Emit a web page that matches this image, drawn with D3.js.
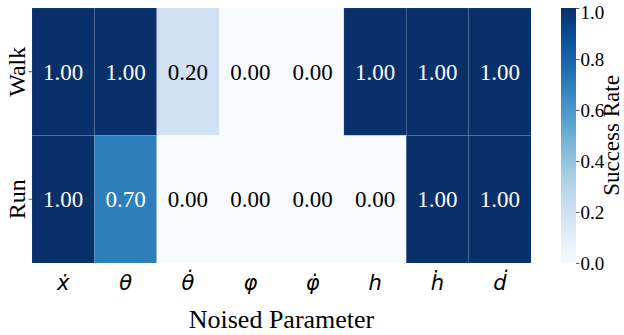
<!DOCTYPE html>
<html>
<head>
<meta charset="utf-8">
<script src="https://cdn.jsdelivr.net/npm/d3@7"></script>
<style>
  body { margin: 0; background: #fff; }
  svg { display: block; }
</style>
</head>
<body>
<div id="chart"></div>
<script>
// Data
const rows = ["Walk", "Run"];
const params = ["x\u0307", "\u03B8", "\u03B8\u0307", "\u03C6", "\u03C6\u0307", "h", "h\u0307", "d\u0307"];
const walkValues = [1.00, 1.00, 0.20, 0.00, 0.00, 1.00, 1.00, 1.00];
const runValues = [1.00, 0.70, 0.00, 0.00, 0.00, 0.00, 1.00, 1.00];
const colorbarTicks = [0.0, 0.2, 0.4, 0.6, 0.8, 1.0];

const serif = "'Liberation Serif', 'Times New Roman', serif";
const sans = "'DejaVu Sans', sans-serif";

const cells = [];
rows.forEach((r, i) => {
    const vals = i === 0 ? walkValues : runValues;
    params.forEach((p, j) => cells.push({ row: r, param: p, value: vals[j] }));
});

const svgWidth = 624;
const svgHeight = 335;
const margin = { top: 8, left: 32 };
const width = 499;
const height = 255;

const svg = d3.select("#chart")
    .append("svg")
    .attr("width", svgWidth)
    .attr("height", svgHeight);

const chart = svg.append("g")
    .attr("transform", `translate(${margin.left},${margin.top})`);

const x = d3.scaleBand().domain(params).range([0, width]);
const y = d3.scaleBand().domain(rows).range([0, height]);
const color = d3.scaleSequential(d3.interpolateBlues).domain([0, 1]);

// Cells
chart.selectAll(".cell")
    .data(cells)
    .enter()
    .append("rect")
    .attr("class", "cell")
    .attr("x", d => x(d.param))
    .attr("y", d => y(d.row))
    .attr("width", x.bandwidth())
    .attr("height", y.bandwidth())
    .attr("fill", d => color(d.value))
    .attr("stroke", "rgba(255,255,255,0.06)")
    .attr("stroke-width", 1);

// Annotations
chart.selectAll(".val")
    .data(cells)
    .enter()
    .append("text")
    .attr("class", "val")
    .attr("x", d => x(d.param) + x.bandwidth() / 2)
    .attr("y", d => y(d.row) + y.bandwidth() / 2)
    .attr("dy", "0.35em")
    .attr("text-anchor", "middle")
    .style("font-family", serif)
    .style("font-size", "23px")
    .attr("fill", d => d.value > 0.5 ? "#fff" : "#000")
    .text(d => d.value.toFixed(2));

// Y axis
const yAxis = chart.append("g")
    .call(d3.axisLeft(y).tickSize(3.5).tickPadding(4));
yAxis.select(".domain").remove();
yAxis.selectAll("line").attr("stroke", "#333").attr("stroke-width", 0.8);
yAxis.selectAll("text")
    .style("font-family", serif)
    .style("font-size", "24px")
    .attr("fill", "#000")
    .attr("text-anchor", "middle")
    .attr("dy", "0.32em")
    .attr("x", null)
    .attr("y", 0)
    .attr("transform", "translate(-15,0) rotate(-90)");

// X axis
const xAxis = chart.append("g")
    .attr("transform", `translate(0,${height})`)
    .call(d3.axisBottom(x).tickSize(0).tickPadding(12));
xAxis.select(".domain").remove();
xAxis.selectAll("text")
    .style("font-family", sans)
    .style("font-style", "italic")
    .style("font-size", "21px")
    .attr("fill", "#000");

chart.append("text")
    .attr("x", width / 2)
    .attr("y", 320)
    .attr("text-anchor", "middle")
    .style("font-family", serif)
    .style("font-size", "26px")
    .text("Noised Parameter");

// Colorbar
const cbX = 561;
const cbW = 15;
const cbScale = d3.scaleLinear().domain([0, 1]).range([margin.top + height, margin.top]);

const defs = svg.append("defs");
const grad = defs.append("linearGradient")
    .attr("id", "cbgrad")
    .attr("x1", 0).attr("y1", 1).attr("x2", 0).attr("y2", 0);
d3.range(0, 1.0001, 0.05).forEach(t => {
    grad.append("stop").attr("offset", t).attr("stop-color", color(t));
});

svg.append("rect")
    .attr("x", cbX)
    .attr("y", cbScale(1))
    .attr("width", cbW)
    .attr("height", cbScale(0) - cbScale(1))
    .attr("fill", "url(#cbgrad)");

const cbAxis = svg.append("g")
    .attr("transform", `translate(${cbX + cbW},0)`)
    .call(d3.axisRight(cbScale).tickValues(colorbarTicks).tickFormat(d3.format(".1f")).tickSize(3.5).tickPadding(1));
cbAxis.select(".domain").remove();
cbAxis.selectAll("line").attr("stroke", "#333").attr("stroke-width", 0.8);
cbAxis.selectAll("text")
    .style("font-family", serif)
    .style("font-size", "19px")
    .attr("fill", "#000")
    .attr("dy", d => d === 1 ? "0.55em" : "0.32em");

svg.append("text")
    .attr("transform", `translate(611,${margin.top + height / 2}) rotate(-90)`)
    .attr("text-anchor", "middle")
    .attr("dy", "0.35em")
    .style("font-family", serif)
    .style("font-size", "23px")
    .text("Success Rate");
</script>
</body>
</html>
